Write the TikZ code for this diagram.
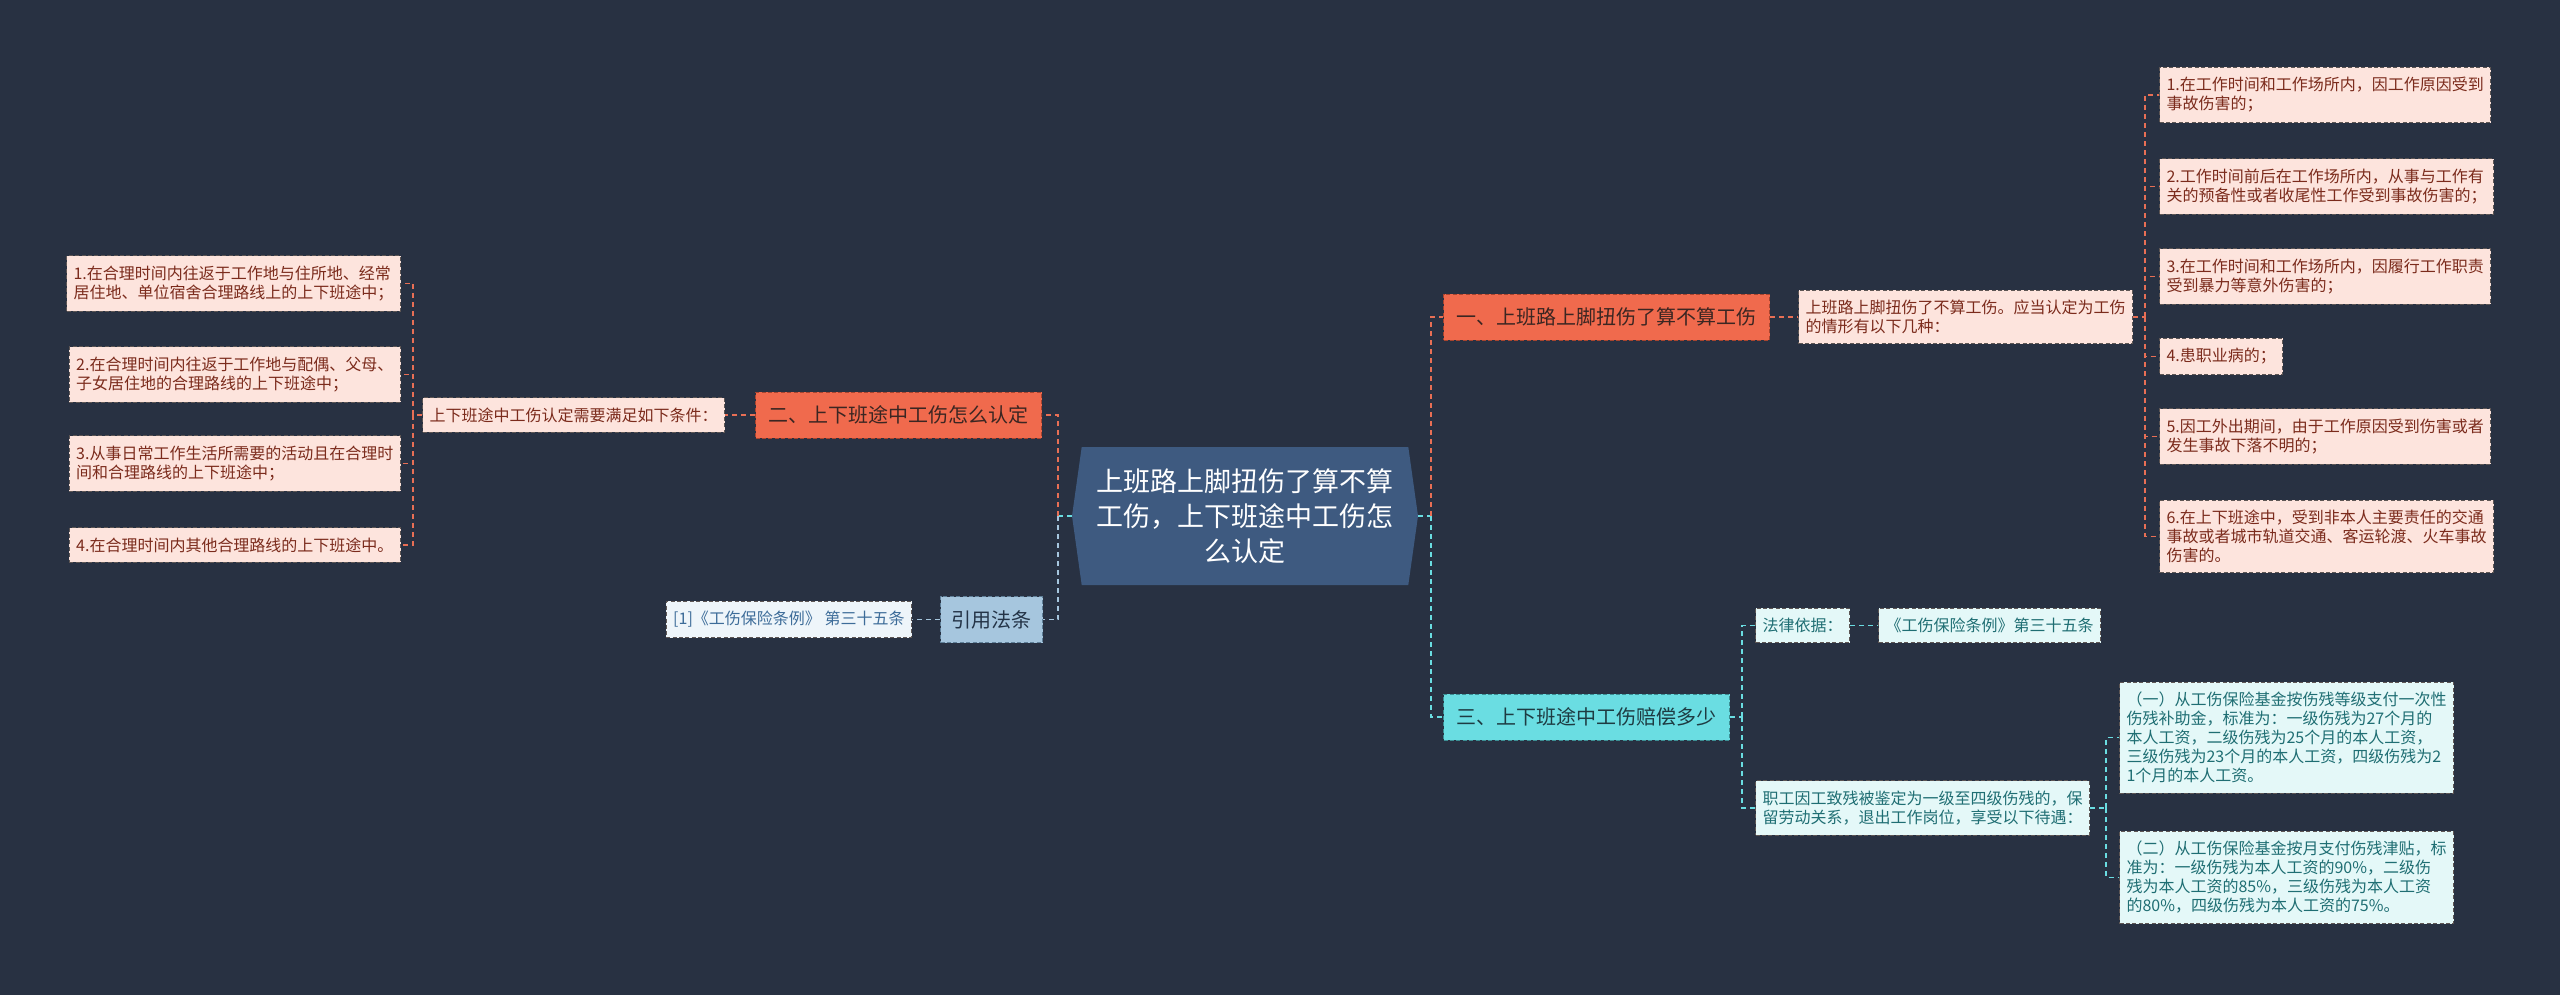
\documentclass[tikz,border=0pt]{standalone}
\usepackage{fontspec}
\setmainfont{Noto Sans CJK SC}
\usetikzlibrary{positioning, shapes.symbols}

\definecolor{bgdark}{HTML}{283142}
\definecolor{rootblue}{HTML}{3E5A80}
\definecolor{orM}{HTML}{F06A4D}
\definecolor{orB}{HTML}{A8442E}
\definecolor{orText}{HTML}{3B2622}
\definecolor{orLeaf}{HTML}{FDE4DD}
\definecolor{orLeafText}{HTML}{7B2B1C}
\definecolor{orLine}{HTML}{E86F55}
\definecolor{cyM}{HTML}{6ADDE2}
\definecolor{cyB}{HTML}{3C8E93}
\definecolor{cyText}{HTML}{1E3B42}
\definecolor{cyLeaf}{HTML}{E4F8F8}
\definecolor{cyLeafText}{HTML}{1F6E73}
\definecolor{cyLine}{HTML}{6ADDE2}
\definecolor{blM}{HTML}{A6C6DE}
\definecolor{blB}{HTML}{5F7F98}
\definecolor{blText}{HTML}{243447}
\definecolor{blLeaf}{HTML}{EEF5FA}
\definecolor{blLeafText}{HTML}{3D6C99}
\definecolor{leafB}{HTML}{5E5654}

\begin{document}
\begin{tikzpicture}[
    x=0.5pt, y=-0.5pt,
    root/.style={signal, signal to=west and east, signal pointer angle=164, fill=rootblue, text=white, align=center, minimum width=173pt, minimum height=69pt, inner sep=0pt, font=\fontsize{13.5}{17.5}\selectfont},
    branch/.style={draw, dash pattern=on 2pt off 1.2pt, line width=0.5pt, minimum height=23pt, inner xsep=6.5pt, font=\fontsize{10}{12}\selectfont},
    bro/.style={branch, fill=orM, draw=orB, text=orText},
    brc/.style={branch, fill=cyM, draw=cyB, text=cyText},
    brb/.style={branch, fill=blM, draw=blB, text=blText, inner xsep=5.5pt},
    leaf/.style={draw=leafB, dash pattern=on 2pt off 1.2pt, line width=0.5pt, align=left, inner xsep=3.5pt, inner ysep=5pt, font=\fontsize{8}{9.5}\selectfont},
    leafo/.style={leaf, fill=orLeaf, text=orLeafText},
    leafc/.style={leaf, fill=cyLeaf, text=cyLeafText},
    leafb/.style={leaf, fill=blLeaf, text=blLeafText},
    link/.style={dash pattern=on 2.5pt off 2pt, line width=0.8pt},
    linko/.style={link, draw=orLine},
    linkc/.style={link, draw=cyLine},
    linkb/.style={link, draw=blM}
]

% Background
\fill[bgdark] (0,0) rectangle (2560,995);

% Root
\node[root] (root) at (1245,516) {上班路上脚扭伤了算不算\\工伤，上下班途中工伤怎\\么认定};

% Branch one
\node[bro, anchor=west] (b1) at (1443,317) {一、上班路上脚扭伤了算不算工伤};
\node[leafo, anchor=west] (m1) at (1798,317) {上班路上脚扭伤了不算工伤。应当认定为工伤\\的情形有以下几种：};
\node[leafo, anchor=west] (r1) at (2159,95) {1.在工作时间和工作场所内，因工作原因受到\\事故伤害的；};
\node[leafo, anchor=west] (r2) at (2159,186.5) {2.工作时间前后在工作场所内，从事与工作有\\关的预备性或者收尾性工作受到事故伤害的；};
\node[leafo, anchor=west] (r3) at (2159,276.5) {3.在工作时间和工作场所内，因履行工作职责\\受到暴力等意外伤害的；};
\node[leafo, anchor=west] (r4) at (2159,356.5) {4.患职业病的；};
\node[leafo, anchor=west] (r5) at (2159,436.5) {5.因工外出期间，由于工作原因受到伤害或者\\发生事故下落不明的；};
\node[leafo, anchor=west] (r6) at (2159,536.5) {6.在上下班途中，受到非本人主要责任的交通\\事故或者城市轨道交通、客运轮渡、火车事故\\伤害的。};

% Branch two
\node[bro, anchor=east] (b2) at (1042,415) {二、上下班途中工伤怎么认定};
\node[leafo, left=15pt of b2] (cond) {上下班途中工伤认定需要满足如下条件：};
\node[leafo, anchor=east] (l1) at (401,283.5) {1.在合理时间内往返于工作地与住所地、经常\\居住地、单位宿舍合理路线上的上下班途中；};
\node[leafo, anchor=east] (l2) at (401,374.5) {2.在合理时间内往返于工作地与配偶、父母、\\子女居住地的合理路线的上下班途中；};
\node[leafo, anchor=east] (l3) at (401,463.5) {3.从事日常工作生活所需要的活动且在合理时\\间和合理路线的上下班途中；};
\node[leafo, anchor=east] (l4) at (401,545) {4.在合理时间内其他合理路线的上下班途中。};

% Cited law
\node[brb, anchor=east] (cite) at (1043,619.5) {引用法条};
\node[leafb, left=14pt of cite] (ref) {[1]《工伤保险条例》 第三十五条};

% Branch three
\node[brc, anchor=west] (b3) at (1443,717) {三、上下班途中工伤赔偿多少};
\node[leafc, anchor=west] (law) at (1755,625.5) {法律依据：};
\node[leafc, right=14pt of law] (lawref) {《工伤保险条例》第三十五条};
\node[leafc, anchor=west] (pay) at (1755,808) {职工因工致残被鉴定为一级至四级伤残的，保\\留劳动关系，退出工作岗位，享受以下待遇：};
\node[leafc, anchor=west] (p1) at (2119,737.5) {（一）从工伤保险基金按伤残等级支付一次性\\伤残补助金，标准为：一级伤残为27个月的\\本人工资，二级伤残为25个月的本人工资，\\三级伤残为23个月的本人工资，四级伤残为2\\1个月的本人工资。};
\node[leafc, anchor=west] (p2) at (2119,877.5) {（二）从工伤保险基金按月支付伤残津贴，标\\准为：一级伤残为本人工资的90\%，二级伤\\残为本人工资的85\%，三级伤残为本人工资\\的80\%，四级伤残为本人工资的75\%。};

% Spine points
\coordinate (rj) at (1431,516);
\coordinate (lj) at (1058,516);
\coordinate (sp1) at (2145,0);
\coordinate (sp2) at (413,0);
\coordinate (sp3) at (1742,0);
\coordinate (sp4) at (2106,0);

% Root links
\draw[linkc] (root.east) -- (rj);
\draw[linko] (rj) |- (b1.west);
\draw[linkc] (rj) |- (b3.west);
\draw[linkc] (root.west) -- (lj);
\draw[linko] (lj) |- (b2.east);
\draw[linkb] (lj) |- (cite.east);

% Branch one links
\draw[linko] (b1.east) -- (m1.west);
\draw[linko] (m1.east) -- (m1.east -| sp1);
\foreach \n in {1,...,6}
  \draw[linko] (m1.east -| sp1) |- (r\n.west);

% Branch two links
\draw[linko] (b2.west) -- (cond.east);
\draw[linko] (cond.west) -- (cond.west -| sp2);
\foreach \n in {1,...,4}
  \draw[linko] (cond.west -| sp2) |- (l\n.east);
\draw[linkb] (cite.west) -- (ref.east);

% Branch three links
\draw[linkc] (b3.east) -- (b3.east -| sp3);
\draw[linkc] (b3.east -| sp3) |- (law.west);
\draw[linkc] (b3.east -| sp3) |- (pay.west);
\draw[linkc] (law.east) -- (lawref.west);
\draw[linkc] (pay.east) -- (pay.east -| sp4);
\draw[linkc] (pay.east -| sp4) |- (p1.west);
\draw[linkc] (pay.east -| sp4) |- (p2.west);

\end{tikzpicture}
\end{document}
